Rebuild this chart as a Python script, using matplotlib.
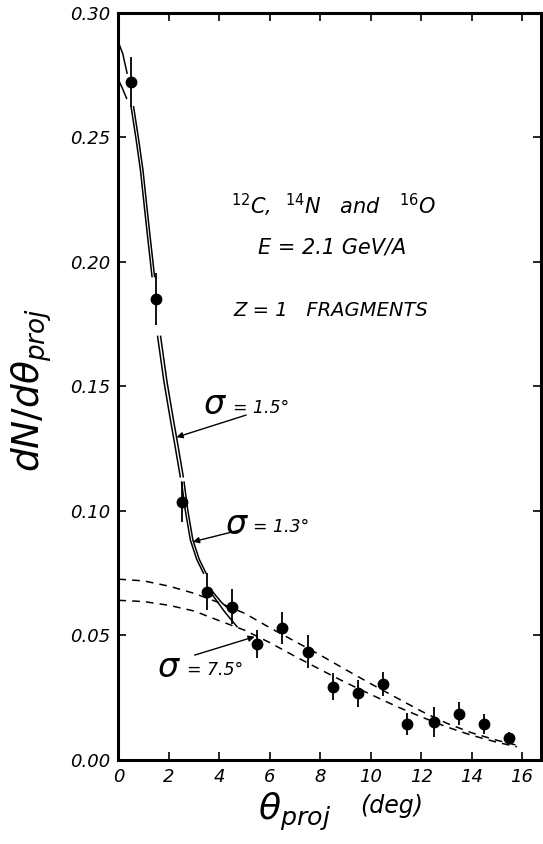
import numpy as np
import matplotlib
matplotlib.use("Agg")
import matplotlib.pyplot as plt

plt.rcParams["font.family"] = ["DejaVu Sans"]
plt.rcParams["mathtext.fontset"] = "dejavusans"

# measured points
theta = [0.5, 1.5, 2.5, 3.5, 4.5, 5.5, 6.5, 7.5, 8.5, 9.5, 10.5, 11.45, 12.5, 13.5, 14.5, 15.5]
dn = [0.272, 0.185, 0.1034, 0.0675, 0.0614, 0.0465, 0.0529, 0.0434, 0.0293, 0.0267,
      0.0304, 0.0145, 0.0153, 0.0185, 0.0145, 0.0086]
err = [0.010, 0.0105, 0.008, 0.0074, 0.007, 0.0056, 0.0064, 0.0067, 0.0054, 0.0054,
       0.005, 0.0044, 0.006, 0.0047, 0.004, 0.0024]

# sigma = 1.5 deg and 1.3 deg curves (drawn in pieces, NaN = gap)
x_s15 = [0.0, 0.17, 0.34, np.nan, 0.5, 0.7, 0.87, 1.1, 1.33, np.nan,
         1.55, 1.8, 2.05, 2.25, 2.45, np.nan,
         2.5, 2.65, 2.85, 3.1, 3.37, np.nan, 3.6, 3.85, 4.1, 4.56]
y_s15 = [0.288, 0.2835, 0.2757, np.nan, 0.2622, 0.249, 0.2368, 0.215, 0.194, np.nan,
         0.170, 0.152, 0.137, 0.1255, 0.1136, np.nan,
         0.1115, 0.100, 0.0882, 0.0805, 0.0749, np.nan, 0.0690, 0.0660, 0.0630, 0.0588]
x_s13 = [0.0, 0.16, 0.32, np.nan, 0.6, 0.8, 0.97, 1.2, 1.43, np.nan,
         1.67, 1.92, 2.17, 2.37, 2.57, np.nan,
         2.6, 2.75, 2.95, 3.2, 3.47, np.nan, 3.68, 3.95, 4.2, 4.7]
y_s13 = [0.273, 0.2695, 0.2656, np.nan, 0.2622, 0.249, 0.2368, 0.215, 0.194, np.nan,
         0.170, 0.152, 0.137, 0.1255, 0.1136, np.nan,
         0.1115, 0.100, 0.0882, 0.0805, 0.0749, np.nan, 0.0668, 0.0630, 0.0595, 0.0534]

# sigma = 7.5 deg gaussian-like curves (dashed)
x_g = [0, 1, 2, 3, 4, 5, 6, 7, 8, 9, 10, 11, 12, 13, 14, 15, 15.8]
y_g_up = [0.0725, 0.0718, 0.0697, 0.0668, 0.0630, 0.0588, 0.0530, 0.0475, 0.0420, 0.0362,
          0.0305, 0.0250, 0.0195, 0.0147, 0.0108, 0.0078, 0.0058]
y_g_lo = [0.0640, 0.0635, 0.0620, 0.0597, 0.0558, 0.0520, 0.0470, 0.0415, 0.0362, 0.0310,
          0.0262, 0.0215, 0.0172, 0.0132, 0.0098, 0.0070, 0.0052]

xticks = [0, 2, 4, 6, 8, 10, 12, 14, 16]
yticks = [0.00, 0.05, 0.10, 0.15, 0.20, 0.25, 0.30]

fig = plt.figure(figsize=(5.43, 8.44), dpi=100)
ax = fig.add_axes([0.2182, 0.0999, 0.7781, 0.8851])

ax.plot(x_s15, y_s15, color="k", lw=1.1)
ax.plot(x_s13, y_s13, color="k", lw=1.1)
ax.plot(x_g, y_g_up, color="k", lw=1.1, dashes=(5, 4))
ax.plot(x_g, y_g_lo, color="k", lw=1.1, dashes=(5, 4))
ax.errorbar(theta, dn, yerr=err, fmt="o", color="k", ms=7.5, elinewidth=1.3, capsize=0)

ax.set_xlim(0, 16.75)
ax.set_ylim(0, 0.30)
ax.set_xticks(xticks)
ax.set_yticks(yticks)
ax.set_xticklabels([str(t) for t in xticks], fontstyle="italic", fontsize=13)
ax.set_yticklabels(["%.2f" % t for t in yticks], fontstyle="italic", fontsize=13)
ax.tick_params(direction="in", top=True, right=True, length=6, width=1.2, pad=6)
for s in ax.spines.values():
    s.set_linewidth(2.2)

# annotations
arrow = dict(arrowstyle="-|>", color="k", lw=1.0, mutation_scale=9, shrinkA=0, shrinkB=0)
ax.annotate("", xy=(2.3, 0.1295), xytext=(5.06, 0.1384), arrowprops=arrow)
ax.text(3.81, 0.1425, r"$\sigma$", fontsize=24, ha="center", va="center")
ax.text(4.55, 0.1412, "= 1.5°", fontsize=12.5, fontstyle="italic", ha="left", va="center")

ax.annotate("", xy=(2.95, 0.0875), xytext=(4.8, 0.0922), arrowprops=arrow)
ax.text(4.70, 0.0945, r"$\sigma$", fontsize=24, ha="center", va="center")
ax.text(5.35, 0.0934, "= 1.3°", fontsize=12.5, fontstyle="italic", ha="left", va="center")

ax.annotate("", xy=(5.4, 0.0494), xytext=(3.02, 0.042), arrowprops=arrow)
ax.text(2.02, 0.037, r"$\sigma$", fontsize=24, ha="center", va="center")
ax.text(2.72, 0.0359, "= 7.5°", fontsize=12.5, fontstyle="italic", ha="left", va="center")

ax.text(8.53, 0.2225, r"$^{12}$C,  $^{14}$N   and   $^{16}$O", fontsize=15, fontstyle="italic",
        ha="center", va="center")
ax.text(8.45, 0.2055, "E = 2.1 GeV/A", fontsize=15, fontstyle="italic", ha="center", va="center")
ax.text(8.41, 0.1805, "Z = 1   FRAGMENTS", fontsize=14, fontstyle="italic", ha="center", va="center")

fig.text(32 / 543, 1 - 390 / 844, r"$dN/d\theta_{proj}$", fontsize=27, rotation=90,
         ha="center", va="center")
fig.text(295 / 543, 1 - 812 / 844, r"$\theta_{proj}$", fontsize=26, ha="center", va="center")
fig.text(392 / 543, 1 - 806 / 844, "(deg)", fontsize=17, fontstyle="italic", ha="center", va="center")

fig.savefig("out.png", dpi=100)
